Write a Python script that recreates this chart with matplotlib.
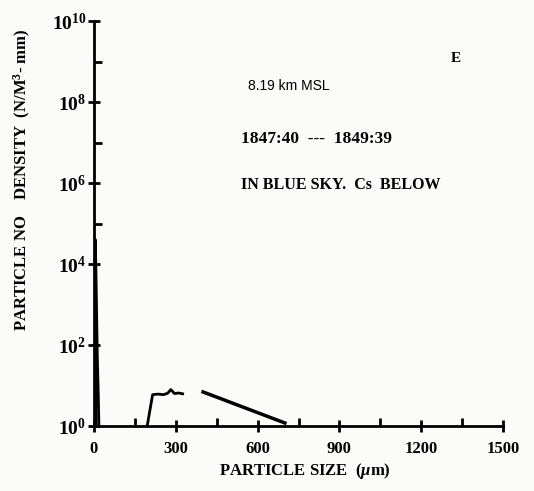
import matplotlib.pyplot as plt
from matplotlib.ticker import FixedLocator, NullFormatter

plt.rcParams['font.family'] = ['Liberation Serif', 'DejaVu Serif']
plt.rcParams['font.weight'] = 'bold'
plt.rcParams['mathtext.fontset'] = 'custom'
plt.rcParams['mathtext.rm'] = 'Liberation Serif:bold'
plt.rcParams['mathtext.it'] = 'Liberation Serif:bold:italic'
plt.rcParams['mathtext.bf'] = 'Liberation Serif:bold'

# spike of small particles near zero (outer and inner trace)
spike_x = [1, 3, 5, 8, 12, 16, 18]
spike_y = [1, 2e3, 4e4, 3e3, 60, 5, 1]
spike_in_x = [5, 6, 8, 10]
spike_in_y = [1, 8, 300, 1]

# middle segment
mid_x = [195, 215, 235, 255, 270, 282, 295, 310, 325]
mid_y = [1, 6.0, 6.2, 6.0, 6.5, 8.0, 6.4, 6.6, 6.3]

# right segment
right_x = [400, 700]
right_y = [7.0, 1.2]

xticks = [0, 300, 600, 900, 1200, 1500]
xminor = [150, 450, 750, 1050, 1350]
yticks = [1, 1e2, 1e4, 1e6, 1e8, 1e10]
ylabels = ['$10^0$', '$10^2$', '$10^4$', '$10^6$', '$10^8$', '$10^{10}$']
yminor = [1e5, 1e7, 1e9]

fig = plt.figure(figsize=(5.34, 4.91), dpi=100, facecolor='#fbfbf9')
ax = fig.add_axes([0.176, 0.132, 0.766, 0.825])
ax.set_facecolor('#fbfbf9')

ax.plot(spike_x, spike_y, color='black', lw=2.0)
ax.plot(spike_in_x, spike_in_y, color='black', lw=1.2)
ax.plot(mid_x, mid_y, color='black', lw=2.0)
ax.plot(right_x, right_y, color='black', lw=2.5)

ax.set_yscale('log')
ax.set_xlim(0, 1500)
ax.set_ylim(1, 1e10)

for s in ['top', 'right']:
    ax.spines[s].set_visible(False)
for s in ['left', 'bottom']:
    ax.spines[s].set_linewidth(2.0)

ax.xaxis.set_major_locator(FixedLocator(xticks))
ax.xaxis.set_minor_locator(FixedLocator(xminor))
ax.yaxis.set_major_locator(FixedLocator(yticks))
ax.yaxis.set_minor_locator(FixedLocator(yminor))
ax.yaxis.set_minor_formatter(NullFormatter())
ax.xaxis.set_minor_formatter(NullFormatter())
ax.set_xticklabels([str(v) for v in xticks])
ax.set_yticklabels(ylabels)
ax.tick_params(which='major', direction='inout', length=9, width=2,
               labelsize=12, pad=6)
ax.tick_params(which='minor', direction='in', length=6, width=2)
ax.tick_params(axis='y', which='major', labelsize=14, pad=1)

ax.set_xlabel('PARTICLE SIZE  ($\\mu$m)', fontsize=12, fontweight='bold')
ax.xaxis.set_label_coords(0.515, -0.085)
ax.set_ylabel('PARTICLE NO    DENSITY  (N/M$^3$- mm)', fontsize=12,
              fontweight='bold')
ax.yaxis.set_label_coords(-0.15, 0.607)

ax.text(0.873, 0.90, 'E', transform=ax.transAxes, fontsize=11, fontweight='bold')
ax.text(0.377, 0.83, '8.19 km MSL', transform=ax.transAxes, fontsize=10,
        fontweight='normal', family='Liberation Sans')
ax.text(0.360, 0.70, '1847:40  ---  1849:39', transform=ax.transAxes, fontsize=12.5,
        fontweight='bold')
ax.text(0.360, 0.585, 'IN BLUE SKY.  Cs  BELOW', transform=ax.transAxes,
        fontsize=11.5, fontweight='bold')

fig.savefig('out.png', dpi=100, facecolor=fig.get_facecolor())
